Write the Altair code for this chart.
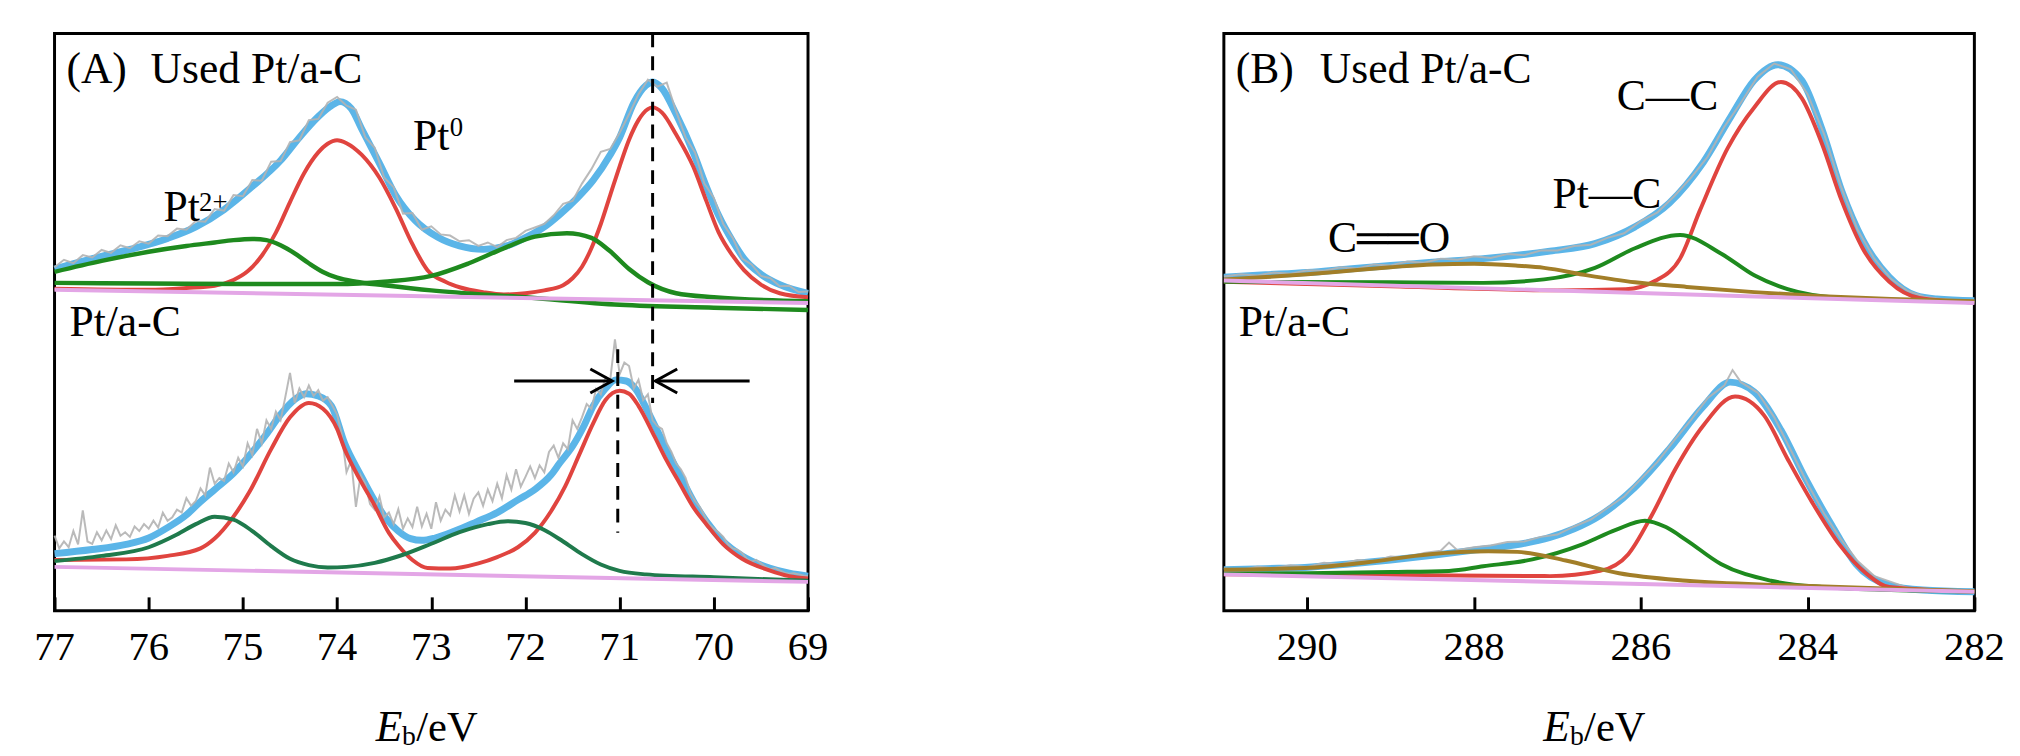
import altair as alt
import pandas as pd

# ---------------- Panel A : Pt 4f ----------------
A_TICKS = [77, 76, 75, 74, 73, 72, 71, 70, 69]

# Used Pt/a-C (upper spectrum)
A_USED_FIT_X = [77.0, 76.6, 76.2, 75.8, 75.5, 75.2, 74.9, 74.6, 74.4, 74.2, 74.05, 73.97, 73.85, 73.74,
                73.55, 73.38, 73.17, 72.93, 72.7, 72.45, 72.2, 71.98, 71.8, 71.64, 71.45, 71.28, 71.1,
                71.0, 70.85, 70.72, 70.65, 70.55, 70.4, 70.22, 70.08, 69.95, 69.8, 69.68, 69.5, 69.3, 69.0]
A_USED_FIT_Y = [59.2, 61.0, 62.6, 64.5, 66.5, 69.5, 73.5, 78.0, 82.0, 85.6, 87.6, 88.2, 87.0, 83.5,
                77.5, 72.0, 67.6, 64.7, 63.2, 62.6, 63.2, 64.8, 66.5, 68.6, 71.5, 74.6, 79.0,
                82.0, 88.0, 91.0, 91.6, 90.5, 86.0, 79.5, 73.5, 68.5, 64.0, 61.0, 58.3, 56.5, 55.0]

A_USED_PT0_X = [77.0, 76.0, 75.6, 75.3, 75.1, 74.95, 74.8, 74.65, 74.5, 74.35, 74.2, 74.1, 74.0, 73.9,
                73.74, 73.55, 73.38, 73.2, 73.04, 72.85, 72.69, 72.45, 72.23, 72.0, 71.8, 71.6, 71.5,
                71.4, 71.3, 71.2, 71.1, 71.0, 70.9, 70.8, 70.7, 70.65, 70.55, 70.4, 70.22, 70.08, 69.95,
                69.8, 69.68, 69.5, 69.3, 69.0]
A_USED_PT0_Y = [55.8, 55.6, 55.9, 56.3, 57.3, 58.8, 61.5, 65.5, 70.8, 75.8, 79.4, 80.9, 81.5, 81.0,
                79.0, 75.0, 69.8, 63.5, 59.0, 57.0, 56.0, 55.2, 54.8, 55.0, 55.5, 56.4, 57.6,
                59.6, 62.8, 67.0, 72.0, 77.0, 81.6, 85.0, 86.9, 87.2, 86.3, 82.5, 77.0, 71.0, 65.6,
                61.5, 59.0, 56.5, 55.0, 54.3]

A_USED_PT2A_X = [77.0, 76.5, 76.0, 75.6, 75.3, 75.1, 74.9, 74.75, 74.6, 74.45, 74.3, 74.15, 74.0, 73.8,
                 73.5, 73.0, 72.0, 71.0, 70.0, 69.0]
A_USED_PT2A_Y = [58.7, 60.6, 62.2, 63.2, 63.8, 64.2, 64.4, 64.2, 63.3, 61.9, 60.2, 58.7, 57.7, 57.0,
                 56.4, 55.5, 54.3, 53.0, 52.5, 52.1]

A_USED_PT2B_X = [77.0, 76.0, 75.0, 74.0, 73.5, 73.0, 72.6, 72.2, 71.9, 71.56, 71.3, 71.11, 70.9, 70.7, 70.4, 70.0, 69.0]
A_USED_PT2B_Y = [56.8, 56.7, 56.6, 56.6, 57.0, 58.0, 60.2, 63.0, 64.8, 65.4, 64.6, 62.4, 59.2, 56.9, 55.0, 54.3, 53.6]

A_USED_BASE_X = [77.0, 69.0]
A_USED_BASE_Y = [55.6, 53.3]

A_USED_RAW_X = [77.0, 76.9, 76.8, 76.7, 76.6, 76.5, 76.4, 76.3, 76.2, 76.1, 76.0, 75.9, 75.8, 75.7, 75.6,
                75.5, 75.4, 75.3, 75.2, 75.1, 75.0, 74.9, 74.8, 74.7, 74.6, 74.5, 74.4, 74.3, 74.2, 74.1,
                74.0, 73.9, 73.8, 73.7, 73.6, 73.5, 73.4, 73.3, 73.2, 73.1, 73.0, 72.9, 72.8, 72.7, 72.6,
                72.5, 72.4, 72.3, 72.2, 72.1, 72.0, 71.9, 71.8, 71.7, 71.6, 71.5, 71.4, 71.3, 71.2, 71.1,
                71.0, 70.9, 70.8, 70.7, 70.6, 70.5, 70.4, 70.3, 70.2, 70.1, 70.0, 69.9, 69.8, 69.7, 69.6,
                69.5, 69.4, 69.3, 69.2, 69.1, 69.0]
A_USED_RAW_Y = [59.5, 60.8, 60.2, 61.6, 61.2, 62.5, 62.0, 63.3, 62.8, 64.0, 63.6, 65.0, 64.9, 66.2, 66.0,
                67.5, 67.4, 69.6, 69.3, 72.0, 71.8, 74.6, 74.5, 77.8, 77.9, 81.2, 81.5, 85.0, 85.2, 88.0,
                89.0, 87.5, 86.8, 82.0, 80.2, 75.0, 73.4, 68.8, 68.9, 66.0, 66.6, 65.2, 65.0, 64.0, 64.2,
                63.2, 63.8, 63.0, 64.2, 64.6, 65.8, 66.4, 67.0, 68.5, 70.5, 71.0, 74.0, 76.5, 79.5, 80.0,
                82.8, 86.0, 89.5, 92.0, 90.8, 91.5, 86.5, 82.0, 79.4, 74.0, 71.5, 67.0, 64.6, 61.0, 60.0,
                58.0, 57.6, 56.2, 56.3, 55.2, 55.3]

# Pt/a-C (lower spectrum)
A_FRESH_FIT_X = [77.0, 76.6, 76.24, 76.0, 75.8, 75.6, 75.45, 75.3, 75.1, 74.9, 74.75, 74.6, 74.45, 74.33,
                 74.2, 74.06, 73.92, 73.75, 73.6, 73.48, 73.35, 73.22, 73.1, 72.96, 72.75, 72.52, 72.3,
                 72.08, 71.9, 71.73, 71.64, 71.5, 71.38, 71.28, 71.15, 71.04, 70.93, 70.83, 70.7, 70.55,
                 70.36, 70.2, 70.08, 69.9, 69.7, 69.41, 69.2, 69.0]
A_FRESH_FIT_Y = [9.9, 10.6, 11.5, 12.6, 14.4, 16.6, 18.9, 21.0, 23.8, 27.5, 30.6, 34.0, 36.6, 37.6,
                 37.2, 35.5, 29.0, 23.5, 19.0, 16.0, 13.8, 12.5, 12.2, 12.6, 13.8, 15.4, 17.0,
                 19.2, 21.0, 23.5, 25.5, 28.5, 32.0, 35.5, 38.5, 40.0, 39.8, 38.4, 34.5, 29.5,
                 23.5, 18.5, 15.5, 12.0, 9.5, 7.4, 6.5, 6.0]

A_FRESH_PT0_X = [77.0, 76.24, 75.8, 75.45, 75.3, 75.1, 74.93, 74.7, 74.5, 74.3, 74.15, 74.0, 73.92, 73.75,
                 73.61, 73.45, 73.35, 73.2, 73.04, 72.8, 72.5, 72.3, 72.08, 71.9, 71.73, 71.58, 71.43,
                 71.28, 71.15, 71.0, 70.9, 70.8, 70.63, 70.5, 70.36, 70.2, 70.08, 69.9, 69.7, 69.41,
                 69.2, 69.0]
A_FRESH_PT0_Y = [8.8, 8.9, 9.5, 10.8, 12.5, 16.3, 20.6, 28.0, 33.5, 36.0, 35.0, 31.5, 28.0, 22.5,
                 18.5, 13.5, 11.3, 8.8, 7.4, 7.3, 8.2, 9.3, 11.0, 13.5, 17.2, 21.5, 27.0,
                 32.5, 36.5, 38.1, 37.6, 35.5, 30.2, 26.0, 22.0, 17.5, 15.0, 11.5, 9.0, 7.0,
                 6.0, 5.6]

A_FRESH_PT2_X = [77.0, 76.5, 76.0, 75.7, 75.5, 75.3, 75.1, 74.9, 74.7, 74.5, 74.3, 74.1, 73.9, 73.6, 73.3,
                 73.0, 72.7, 72.4, 72.19, 72.0, 71.8, 71.6, 71.4, 71.2, 71.0, 70.72, 70.0, 69.0]
A_FRESH_PT2_Y = [8.6, 9.5, 11.0, 13.2, 15.0, 16.3, 15.8, 13.8, 11.2, 9.0, 7.9, 7.5, 7.6, 8.3, 9.7,
                 11.6, 13.6, 15.0, 15.5, 15.2, 14.0, 12.0, 9.8, 8.0, 6.9, 6.3, 5.8, 5.2]

A_FRESH_BASE_X = [77.0, 69.0]
A_FRESH_BASE_Y = [7.6, 5.0]

A_FRESH_RAW_X = [77.0, 76.95, 76.9, 76.85, 76.8, 76.75, 76.7, 76.65, 76.6, 76.55, 76.5, 76.45, 76.4, 76.35,
                 76.3, 76.25, 76.2, 76.15, 76.1, 76.05, 76.0, 75.95, 75.9, 75.85, 75.8, 75.75, 75.7, 75.65,
                 75.6, 75.55, 75.5, 75.45, 75.4, 75.35, 75.3, 75.25, 75.2, 75.15, 75.1, 75.05, 75.0, 74.95,
                 74.9, 74.85, 74.8, 74.75, 74.7, 74.65, 74.6, 74.55, 74.5, 74.45, 74.4, 74.35, 74.3, 74.25,
                 74.2, 74.15, 74.1, 74.05, 74.0, 73.95, 73.9, 73.85, 73.8, 73.75, 73.7, 73.65, 73.6, 73.55,
                 73.5, 73.45, 73.4, 73.35, 73.3, 73.25, 73.2, 73.15, 73.1, 73.05, 73.0, 72.95, 72.9, 72.85,
                 72.8, 72.75, 72.7, 72.65, 72.6, 72.55, 72.5, 72.45, 72.4, 72.35, 72.3, 72.25, 72.2, 72.15,
                 72.1, 72.05, 72.0, 71.95, 71.9, 71.85, 71.8, 71.75, 71.7, 71.65, 71.6, 71.55, 71.5, 71.45,
                 71.4, 71.35, 71.3, 71.25, 71.2, 71.15, 71.1, 71.05, 71.0, 70.95, 70.9, 70.85, 70.8, 70.75,
                 70.7, 70.65, 70.6, 70.55, 70.5, 70.45, 70.4, 70.35, 70.3, 70.25, 70.2, 70.15, 70.1, 70.05,
                 70.0, 69.95, 69.9, 69.85, 69.8, 69.75, 69.7, 69.65, 69.6, 69.55, 69.5, 69.45, 69.4, 69.35,
                 69.3, 69.25, 69.2, 69.15, 69.1, 69.05, 69.0]
A_FRESH_RAW_Y = [13.0, 10.8, 12.0, 11.0, 13.8, 11.5, 17.4, 12.0, 11.6, 13.6, 12.2, 13.9, 12.4, 14.8,
                 13.0, 13.6, 12.8, 14.6, 13.8, 15.0, 14.2, 15.6, 14.4, 17.0, 15.6, 16.2, 17.5, 17.0,
                 19.5, 18.2, 19.0, 21.2, 20.0, 24.8, 22.0, 23.0, 22.5, 25.5, 24.0, 26.5, 25.0, 29.0,
                 27.0, 31.5, 29.0, 33.0, 31.5, 34.5, 33.0, 37.0, 41.2, 36.0, 38.5, 37.0, 39.0, 37.2,
                 38.2, 36.4, 37.0, 35.5, 34.0, 30.5, 24.0, 26.0, 18.0, 23.5, 22.0, 18.5, 17.5, 19.8,
                 16.2, 17.0, 15.0, 17.6, 14.2, 16.0, 14.5, 18.0, 14.6, 16.8, 14.2, 18.8, 15.6, 17.5,
                 16.5, 20.0, 17.2, 20.0, 16.8, 19.4, 20.5, 18.2, 21.0, 19.0, 22.0, 19.5, 23.5, 21.0,
                 24.5, 21.5, 23.2, 25.0, 23.0, 25.2, 24.0, 27.5, 28.6, 26.5, 29.0, 28.0, 33.0, 31.5,
                 33.5, 35.8, 35.0, 38.4, 37.5, 40.5, 40.0, 47.0, 41.0, 43.0, 42.4, 38.5, 40.0, 36.5,
                 37.5, 33.0, 32.0, 31.5, 29.0, 27.5, 25.5, 24.5, 23.0, 20.5, 19.0, 18.0, 16.5, 15.0,
                 14.2, 13.6, 12.8, 11.5, 10.8, 10.6, 10.0, 9.0, 8.5, 8.8, 8.2, 7.6, 7.2, 7.4,
                 7.0, 6.6, 6.4, 6.5, 6.3, 6.1, 6.0]

# shift markers (dashed guides and arrows)
A_GUIDE1_X = [70.65, 70.65]
A_GUIDE1_Y = [100.0, 36.0]
A_GUIDE2_X = [71.02, 71.02]
A_GUIDE2_Y = [45.3, 13.5]
A_ARROW_L_X = [72.12, 71.08]
A_ARROW_R_X = [69.62, 70.62]
A_ARROW_Y = [39.8, 39.8]

# ---------------- Panel B : C 1s ----------------
B_TICKS = [290, 288, 286, 284, 282]

B_USED_FIT_X = [291.0, 290.5, 290.0, 289.5, 289.0, 288.5, 287.89, 287.09, 286.55, 286.07, 285.66, 285.25,
                284.92, 284.64, 284.36, 284.07, 283.83, 283.59, 283.34, 283.02, 282.7, 282.45, 282.0]
B_USED_FIT_Y = [57.8, 58.2, 58.6, 59.2, 59.8, 60.4, 61.0, 62.3, 63.6, 66.5, 70.6, 77.7,
                85.6, 91.9, 94.6, 91.9, 83.5, 72.7, 64.3, 57.8, 54.6, 54.0, 53.7]

B_USED_CC_X = [291.0, 289.0, 287.0, 286.18, 285.82, 285.53, 285.29, 284.96, 284.64, 284.32, 284.07,
               283.83, 283.59, 283.34, 283.02, 282.66, 282.0]
B_USED_CC_Y = [57.0, 56.2, 55.5, 55.7, 57.2, 61.0, 69.4, 80.1, 87.2, 91.6, 88.8,
               81.0, 71.0, 62.8, 57.0, 54.2, 53.4]

B_USED_PTC_X = [291.0, 289.0, 287.89, 287.16, 286.55, 286.07, 285.53, 285.04, 284.64, 284.24, 283.63, 283.02, 282.0]
B_USED_PTC_Y = [57.0, 56.9, 56.8, 57.4, 59.4, 62.8, 65.1, 61.9, 58.1, 55.7, 54.2, 53.9, 53.5]

B_USED_CO_X = [291.0, 290.5, 290.0, 289.5, 289.0, 288.5, 288.0, 287.5, 287.16, 286.64, 286.07, 285.45,
               284.64, 283.83, 283.0, 282.0]
B_USED_CO_Y = [57.4, 57.8, 58.3, 58.9, 59.5, 60.0, 60.1, 59.8, 59.4, 58.1, 56.9, 56.1,
               55.2, 54.5, 54.0, 53.6]

B_USED_BASE_X = [291.0, 282.0]
B_USED_BASE_Y = [57.2, 53.3]

B_USED_RAW_X = [291.0, 290.8, 290.6, 290.4, 290.2, 290.0, 289.8, 289.6, 289.4, 289.2, 289.0, 288.8, 288.6,
                288.4, 288.2, 288.0, 287.8, 287.6, 287.4, 287.2, 287.0, 286.8, 286.6, 286.4, 286.2, 286.0,
                285.8, 285.6, 285.4, 285.2, 285.0, 284.8, 284.6, 284.4, 284.2, 284.0, 283.8, 283.6, 283.4,
                283.2, 283.0, 282.8, 282.6, 282.4, 282.2, 282.0]
B_USED_RAW_Y = [57.9, 58.3, 58.1, 58.6, 58.4, 59.0, 58.9, 59.5, 59.3, 60.0, 59.8, 60.5, 60.3,
                61.0, 60.8, 61.4, 61.1, 61.8, 61.6, 62.4, 62.4, 63.2, 63.4, 64.6, 65.4, 67.5,
                69.0, 71.8, 75.0, 78.6, 83.8, 88.0, 92.5, 94.8, 93.8, 89.5, 82.5, 73.5, 66.0,
                61.0, 57.5, 55.4, 54.4, 54.0, 53.8, 53.7]

B_FRESH_FIT_X = [291.0, 290.5, 290.03, 289.5, 289.0, 288.5, 288.0, 287.5, 287.09, 286.8, 286.49, 286.07,
                 285.66, 285.25, 284.93, 284.64, 284.32, 284.03, 283.71, 283.42, 283.02, 282.62, 282.0]
B_FRESH_FIT_Y = [7.1, 7.3, 7.5, 8.1, 8.8, 9.6, 10.5, 11.4, 12.7, 14.2, 16.5, 21.4,
                 28.0, 35.4, 39.6, 37.9, 31.3, 23.0, 14.8, 8.1, 4.4, 3.6, 3.3]

B_FRESH_CC_X = [291.0, 289.0, 287.09, 286.49, 286.15, 285.87, 285.58, 285.25, 284.87, 284.52, 284.24,
                283.95, 283.62, 283.3, 283.02, 282.0]
B_FRESH_CC_Y = [6.3, 6.2, 6.0, 6.9, 9.8, 16.5, 24.7, 32.1, 37.1, 33.8, 26.3,
                18.9, 11.5, 6.5, 4.1, 3.3]

B_FRESH_PTC_X = [291.0, 290.0, 289.0, 288.3, 287.89, 287.3, 286.7, 286.3, 285.95, 285.7, 285.45, 285.04,
                 284.44, 283.83, 283.0, 282.0]
B_FRESH_PTC_Y = [6.4, 6.5, 6.7, 6.9, 7.7, 8.9, 11.5, 14.0, 15.6, 14.5, 12.2, 8.1,
                 5.2, 4.1, 3.6, 3.3]

B_FRESH_CO_X = [291.0, 290.03, 289.28, 288.53, 287.83, 287.48, 286.9, 286.26, 285.45, 284.24, 283.0, 282.0]
B_FRESH_CO_Y = [7.1, 7.4, 8.4, 9.8, 10.3, 10.2, 8.7, 6.5, 5.2, 4.4, 3.8, 3.4]

B_FRESH_BASE_X = [291.0, 282.0]
B_FRESH_BASE_Y = [6.3, 3.3]

B_FRESH_RAW_X = [291.0, 290.8, 290.6, 290.4, 290.2, 290.0, 289.8, 289.6, 289.4, 289.2, 289.0, 288.8, 288.6,
                 288.4, 288.3, 288.2, 288.0, 287.8, 287.6, 287.4, 287.2, 287.0, 286.8, 286.6, 286.4, 286.2,
                 286.0, 285.8, 285.6, 285.4, 285.2, 285.0, 284.9, 284.8, 284.6, 284.4, 284.2, 284.0, 283.8,
                 283.6, 283.4, 283.2, 283.0, 282.8, 282.6, 282.4, 282.2, 282.0]
B_FRESH_RAW_Y = [7.3, 7.0, 7.6, 7.4, 7.9, 7.6, 8.3, 8.0, 8.8, 8.6, 9.4, 9.2, 10.0,
                 10.4, 11.8, 10.5, 11.0, 11.3, 11.9, 12.0, 12.8, 13.2, 14.6, 15.8, 17.8, 19.8,
                 22.8, 25.8, 29.5, 33.0, 36.8, 39.0, 41.7, 39.6, 37.8, 33.5, 27.8, 22.0, 16.8,
                 12.4, 8.6, 6.0, 5.0, 4.0, 3.8, 3.5, 3.4, 3.3]

# ---------------- text annotations ----------------
A_LABELS = [("(A)", 76.874, 91.42), ("Used Pt/a-C", 75.98, 91.42), ("Pt", 75.843, 67.58),
            ("Pt", 73.193, 79.76), ("Pt/a-C", 76.842, 47.68)]
A_SUPERS = [("2+", 75.465, 69.3), ("0", 72.804, 82.16)]
B_LABELS = [("(B)", 290.858, 91.42), ("Used Pt/a-C", 289.849, 91.42), ("C\u2014C", 286.29, 86.79),
            ("Pt\u2014C", 287.06, 69.81), ("Pt/a-C", 290.822, 47.68)]
B_CENTER_LABELS = [("C\u2550\u2550O", 289.02, 62.09)]
A_XTITLE = [("E", 73.59, -22.5), ("b", 73.31, -23.2), ("/eV", 73.16, -22.5)]
B_XTITLE = [("E", 287.17, -22.5), ("b", 286.85, -23.2), ("/eV", 286.68, -22.5)]
TICK_LABEL_Y = -8.55   # baseline of the tick numbers, in intensity units below the frame

# ---------------- styles ----------------
FONT = "Liberation Serif"
C_FIT = "#5BB5E8"
C_RAW = "#B3B3B3"
C_RED = "#E0443F"
C_GREEN = "#1E8A1E"
C_TEAL = "#1F7A4C"
C_OLIVE = "#A27E28"
C_BASE = "#E3A6E6"


def df_of(pairs):
    frames = []
    for name, xs, ys in pairs:
        frames.append(pd.DataFrame({"x": xs, "y": ys, "curve": name}))
    return pd.concat(frames, ignore_index=True)


def txt_df(items):
    return pd.DataFrame({"label": [t[0] for t in items], "x": [t[1] for t in items], "y": [t[2] for t in items]})


def make_panel(domain, ticks, width, height, groups, texts):
    xenc = alt.X("x:Q", scale=alt.Scale(domain=domain, nice=False, zero=False),
                 axis=alt.Axis(values=ticks, labels=False, tickSize=14, tickWidth=3,
                               tickColor="black", domain=False, grid=False, offset=-14,
                               title=None))
    yenc = alt.Y("y:Q", scale=alt.Scale(domain=[0, 100], nice=False, zero=False), axis=None)
    layers = []
    for data, props in groups:
        props = dict(props)
        kind = props.pop("kind", "line")
        if kind == "line":
            layers.append(alt.Chart(data).mark_line(**props).encode(x=xenc, y=yenc, detail="curve:N"))
        else:
            layers.append(alt.Chart(data).mark_point(**props).encode(x=xenc, y=yenc))
    for data, props in texts:
        layers.append(alt.Chart(data).mark_text(**props).encode(x=xenc, y=yenc, text="label:N"))
    tick_df = pd.DataFrame({"label": [str(t) for t in ticks], "x": ticks, "y": [TICK_LABEL_Y] * len(ticks)})
    layers.append(alt.Chart(tick_df).mark_text(font=FONT, fontSize=41, align="center", baseline="alphabetic",
                                               color="black").encode(x=xenc, y=yenc, text="label:N"))
    return alt.layer(*layers).properties(width=width, height=height)


ARROW_SHAPE = "M-1,-0.55L0,0L-1,0.55"

# ---- Panel A assembly ----
a_groups = [
    (df_of([("fit_u", A_USED_FIT_X, A_USED_FIT_Y), ("fit_f", A_FRESH_FIT_X, A_FRESH_FIT_Y)]),
     dict(color=C_FIT, strokeWidth=7, interpolate="monotone")),
    (df_of([("raw_u", A_USED_RAW_X, A_USED_RAW_Y), ("raw_f", A_FRESH_RAW_X, A_FRESH_RAW_Y)]),
     dict(color=C_RAW, strokeWidth=2, opacity=0.9)),
    (df_of([("pt0_u", A_USED_PT0_X, A_USED_PT0_Y), ("pt0_f", A_FRESH_PT0_X, A_FRESH_PT0_Y)]),
     dict(color=C_RED, strokeWidth=4, interpolate="monotone")),
    (df_of([("pt2a_u", A_USED_PT2A_X, A_USED_PT2A_Y), ("pt2b_u", A_USED_PT2B_X, A_USED_PT2B_Y)]),
     dict(color=C_GREEN, strokeWidth=4.5, interpolate="monotone")),
    (df_of([("pt2_f", A_FRESH_PT2_X, A_FRESH_PT2_Y)]),
     dict(color=C_TEAL, strokeWidth=4, interpolate="monotone")),
    (df_of([("base_u", A_USED_BASE_X, A_USED_BASE_Y), ("base_f", A_FRESH_BASE_X, A_FRESH_BASE_Y)]),
     dict(color=C_BASE, strokeWidth=4)),
    (df_of([("g1", A_GUIDE1_X, A_GUIDE1_Y), ("g2", A_GUIDE2_X, A_GUIDE2_Y)]),
     dict(color="black", strokeWidth=3, strokeDash=[14, 9])),
    (df_of([("al", A_ARROW_L_X, A_ARROW_Y), ("ar", A_ARROW_R_X, A_ARROW_Y)]),
     dict(color="black", strokeWidth=3)),
    (pd.DataFrame({"x": [A_ARROW_L_X[-1]], "y": [A_ARROW_Y[-1]]}),
     dict(kind="point", shape=ARROW_SHAPE, filled=False, stroke="black", strokeWidth=3, size=1936,
          opacity=1, angle=0)),
    (pd.DataFrame({"x": [A_ARROW_R_X[-1]], "y": [A_ARROW_Y[-1]]}),
     dict(kind="point", shape=ARROW_SHAPE, filled=False, stroke="black", strokeWidth=3, size=1936,
          opacity=1, angle=180)),
]
base_txt = dict(align="left", baseline="alphabetic", font=FONT, color="black")
a_texts = [
    (txt_df(A_LABELS), dict(fontSize=44, **base_txt)),
    (txt_df(A_SUPERS), dict(fontSize=27, **base_txt)),
    (txt_df(A_XTITLE[:1]), dict(fontSize=44, fontStyle="italic", **base_txt)),
    (txt_df(A_XTITLE[1:2]), dict(fontSize=28, **base_txt)),
    (txt_df(A_XTITLE[2:]), dict(fontSize=43, **base_txt)),
]
panel_a = make_panel([77, 69], A_TICKS, 761, 583, a_groups, a_texts)

# ---- Panel B assembly ----
b_groups = [
    (df_of([("fit_u", B_USED_FIT_X, B_USED_FIT_Y), ("fit_f", B_FRESH_FIT_X, B_FRESH_FIT_Y)]),
     dict(color=C_FIT, strokeWidth=7, interpolate="monotone")),
    (df_of([("raw_u", B_USED_RAW_X, B_USED_RAW_Y), ("raw_f", B_FRESH_RAW_X, B_FRESH_RAW_Y)]),
     dict(color=C_RAW, strokeWidth=2, opacity=0.9)),
    (df_of([("cc_u", B_USED_CC_X, B_USED_CC_Y), ("cc_f", B_FRESH_CC_X, B_FRESH_CC_Y)]),
     dict(color=C_RED, strokeWidth=4, interpolate="monotone")),
    (df_of([("ptc_u", B_USED_PTC_X, B_USED_PTC_Y), ("ptc_f", B_FRESH_PTC_X, B_FRESH_PTC_Y)]),
     dict(color=C_GREEN, strokeWidth=4, interpolate="monotone")),
    (df_of([("co_u", B_USED_CO_X, B_USED_CO_Y), ("co_f", B_FRESH_CO_X, B_FRESH_CO_Y)]),
     dict(color=C_OLIVE, strokeWidth=4, interpolate="monotone")),
    (df_of([("base_u", B_USED_BASE_X, B_USED_BASE_Y), ("base_f", B_FRESH_BASE_X, B_FRESH_BASE_Y)]),
     dict(color=C_BASE, strokeWidth=4)),
]
b_texts = [
    (txt_df(B_LABELS), dict(fontSize=44, **base_txt)),
    (txt_df(B_CENTER_LABELS), dict(fontSize=44, align="center", baseline="alphabetic", font=FONT, color="black")),
    (txt_df(B_XTITLE[:1]), dict(fontSize=44, fontStyle="italic", **base_txt)),
    (txt_df(B_XTITLE[1:2]), dict(fontSize=28, **base_txt)),
    (txt_df(B_XTITLE[2:]), dict(fontSize=43, **base_txt)),
]
panel_b = make_panel([291, 282], B_TICKS, 758, 583, b_groups, b_texts)

chart = alt.hconcat(panel_a, panel_b, spacing=382).properties(
    padding={"left": 25, "top": 14, "right": 5, "bottom": 5},
    background="white",
).configure_view(
    stroke="black", strokeWidth=3
)

chart.save("out.html", embed_options={"renderer": "svg", "actions": False})
